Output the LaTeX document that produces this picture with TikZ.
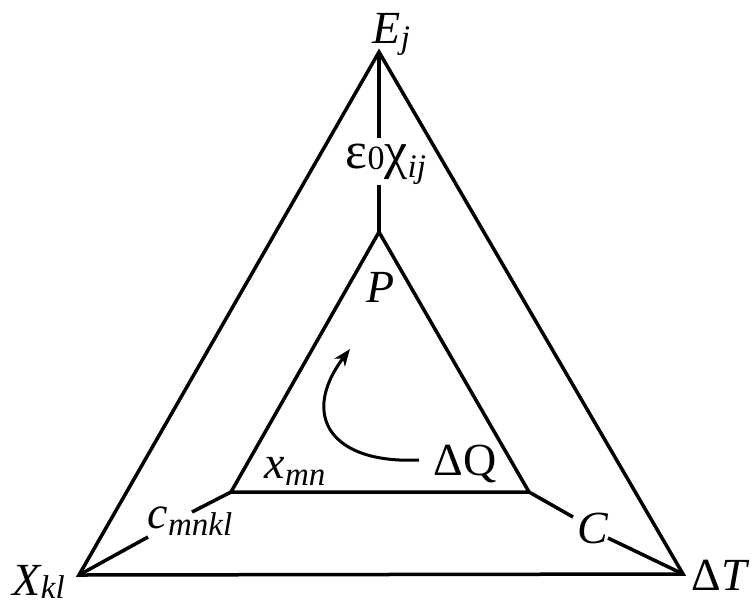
\documentclass[tikz,border=0pt]{standalone}
\usepackage{fontspec}
\setmainfont{LiberationSerif}[Extension=.ttf,UprightFont=*-Regular,ItalicFont=*-Italic,BoldFont=*-Bold]
\usetikzlibrary{arrows.meta}
\newcommand{\mysb}[2][6pt]{\raisebox{-#1}{\fontsize{33}{33}\selectfont\itshape #2}}
\begin{document}
\begin{tikzpicture}[x=1pt,y=-1pt,line width=3.5pt,line join=miter,
  lab/.style={inner sep=0pt,font=\fontsize{46}{46}\selectfont\itshape},
  uplab/.style={inner sep=0pt,font=\fontsize{46}{46}\selectfont}]
\useasboundingbox (0,0) rectangle (754,606);
% outer vertices
\coordinate (E) at (379,52);
\coordinate (X) at (79,575);
\coordinate (T) at (683,574);
% inner vertices
\coordinate (P) at (379,232);
\coordinate (Xi) at (231,492);
\coordinate (Qi) at (529,492);
% gap ends
\coordinate (e1) at (379,138);
\coordinate (e2) at (379,185);
\coordinate (c1) at (148,537);
\coordinate (c2) at (192,512);
\coordinate (k1) at (573,517);
\coordinate (k2) at (608,538);
\coordinate (a1) at (419,460);
\coordinate (a2) at (350,349);
\draw (E) -- (X) -- (T) -- cycle;
\draw (P) -- (Xi) -- (Qi) -- cycle;
\draw (E) -- (e1);
\draw (e2) -- (P);
\draw (X) -- (c1);
\draw (c2) -- (Xi);
\draw (Qi) -- (k1);
\draw (k2) -- (T);
\draw[line width=3pt,-{Stealth[length=17pt,width=13pt,inset=5pt]}] (a1) .. controls (330,464) and (300,415) .. (a2);
% labels
\node[lab,anchor=base west] (lE) at (371,43) {E\mysb[5pt]{j}};
\node[lab,anchor=base] (lP) at (381,302) {P};
\node[lab,anchor=base west] (lX) at (11,595) {X\mysb[3pt]{kl}};
\node[uplab,anchor=base west] (lT) at (690,590) {Δ\textit{T}};
\node[lab,anchor=base west] (lc) at (146,528) {c\mysb[7pt]{mnkl}};
\node[lab,anchor=base] (lC) at (593,543) {C};
\node[lab,anchor=base west] (lx) at (263,478) {x\mysb[7pt]{mn}};
\node[uplab,anchor=base west] (lQ) at (432,475) {ΔQ};
\node[inner sep=0pt,anchor=base west,font=\fontsize{52}{52}\selectfont] (lchi) at (344,168) {ε\raisebox{-1pt}{\fontsize{34}{34}\selectfont 0}χ\mysb[9pt]{ij}};
\end{tikzpicture}
\end{document}
